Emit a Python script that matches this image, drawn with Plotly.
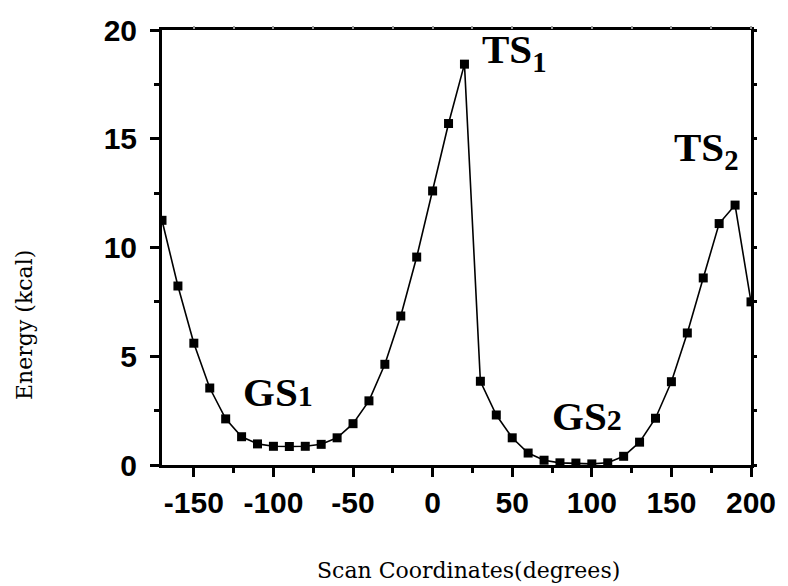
import plotly.graph_objects as go

angles = [-170, -160, -150, -140, -130, -120, -110, -100, -90, -80, -70, -60, -50, -40, -30, -20, -10,
          0, 10, 20, 30, 40, 50, 60, 70, 80, 90, 100, 110, 120, 130, 140, 150, 160, 170, 180, 190, 200]
energy = [11.25, 8.23, 5.6, 3.54, 2.12, 1.3, 0.97, 0.86, 0.85, 0.86, 0.95, 1.25, 1.9, 2.95, 4.63, 6.85, 9.56,
          12.6, 15.7, 18.43, 3.85, 2.3, 1.25, 0.55, 0.22, 0.1, 0.09, 0.05, 0.1, 0.4, 1.05, 2.15, 3.83, 6.07, 8.6, 11.1, 11.95, 7.5]

x_tickvals = [-150, -100, -50, 0, 50, 100, 150, 200]
x_ticktext = ["-150", "-100", "-50", "0", "50", "100", "150", "200"]
y_tickvals = [0, 5, 10, 15, 20]
y_ticktext = ["0", "5", "10", "15", "20"]

x_range = [-170, 200]
y_range = [0, 20]

fig = go.Figure()
fig.add_trace(go.Scatter(
    x=angles, y=energy, mode="lines+markers",
    line=dict(color="black", width=1.6),
    marker=dict(symbol="square", size=9, color="black"),
    showlegend=False,
))
# invisible helper trace for the mirrored-tick axes
fig.add_trace(go.Scatter(
    x=angles, y=energy, xaxis="x2", yaxis="y2", mode="lines",
    line=dict(width=0), opacity=0, hoverinfo="skip", showlegend=False,
))

tickfont = dict(family="Liberation Sans", size=30, color="black", weight="bold")

fig.update_layout(
    width=788, height=586,
    margin=dict(l=162, r=33, t=30, b=121),
    paper_bgcolor="white", plot_bgcolor="white",
    xaxis=dict(
        range=x_range, tickmode="array", tickvals=x_tickvals, ticktext=x_ticktext,
        ticks="outside", ticklen=9, tickwidth=2.5,
        tickcolor="black", showline=True, linewidth=3, linecolor="black", mirror=True,
        showgrid=False, zeroline=False, tickfont=tickfont,
        minor=dict(tick0=0, dtick=25, ticks="outside", ticklen=5, tickwidth=2.5, tickcolor="black", showgrid=False),
    ),
    yaxis=dict(
        range=y_range, tickmode="array", tickvals=y_tickvals, ticktext=y_ticktext,
        ticks="outside", ticklen=9, tickwidth=2.5, ticklabelstandoff=7,
        tickcolor="black", showline=True, linewidth=3, linecolor="black", mirror=True,
        showgrid=False, zeroline=False, tickfont=tickfont,
        minor=dict(tick0=0, dtick=2.5, ticks="outside", ticklen=5, tickwidth=2.5, tickcolor="black", showgrid=False),
    ),
    xaxis2=dict(
        range=x_range, overlaying="x", side="top", tick0=0, dtick=25, ticks="outside",
        ticklen=3, tickwidth=1.5, tickcolor="#999999", showticklabels=False,
        showgrid=False, zeroline=False, showline=False,
    ),
    yaxis2=dict(
        range=y_range, overlaying="y", side="right", tick0=0, dtick=2.5, ticks="outside",
        ticklen=5, tickwidth=2.5, tickcolor="black", showticklabels=False,
        showgrid=False, zeroline=False, showline=False,
    ),
)

lab_font = dict(family="Liberation Serif", size=41, color="black", weight="bold")
labels = [
    ("TS<sub>1</sub>", 29.7, 19.0),
    ("TS<sub>2</sub>", 150.1, 14.5),
    ("GS<span style='font-size:30px'>1</span>", -120.1, 3.35),
    ("GS<span style='font-size:30px'>2</span>", 74.0, 2.25),
]
for txt, lx, ly in labels:
    fig.add_annotation(x=lx, y=ly, xref="x", yref="y", text=txt, showarrow=False,
                       xanchor="left", yanchor="middle", font=lab_font)

title_font = dict(family="DejaVu Serif", size=22, color="black")
fig.add_annotation(x=(471 - 162) / 593, y=(465 - 570) / 435, xref="paper", yref="paper",
                   text="Scan Coordinates(degrees)", showarrow=False,
                   xanchor="center", yanchor="middle", font=title_font)
fig.add_annotation(x=(23 - 162) / 593, y=(465 - 325) / 435, xref="paper", yref="paper",
                   text="Energy (kcal)", showarrow=False, textangle=-90,
                   xanchor="center", yanchor="middle", font=title_font)

fig.write_html("out.html")
